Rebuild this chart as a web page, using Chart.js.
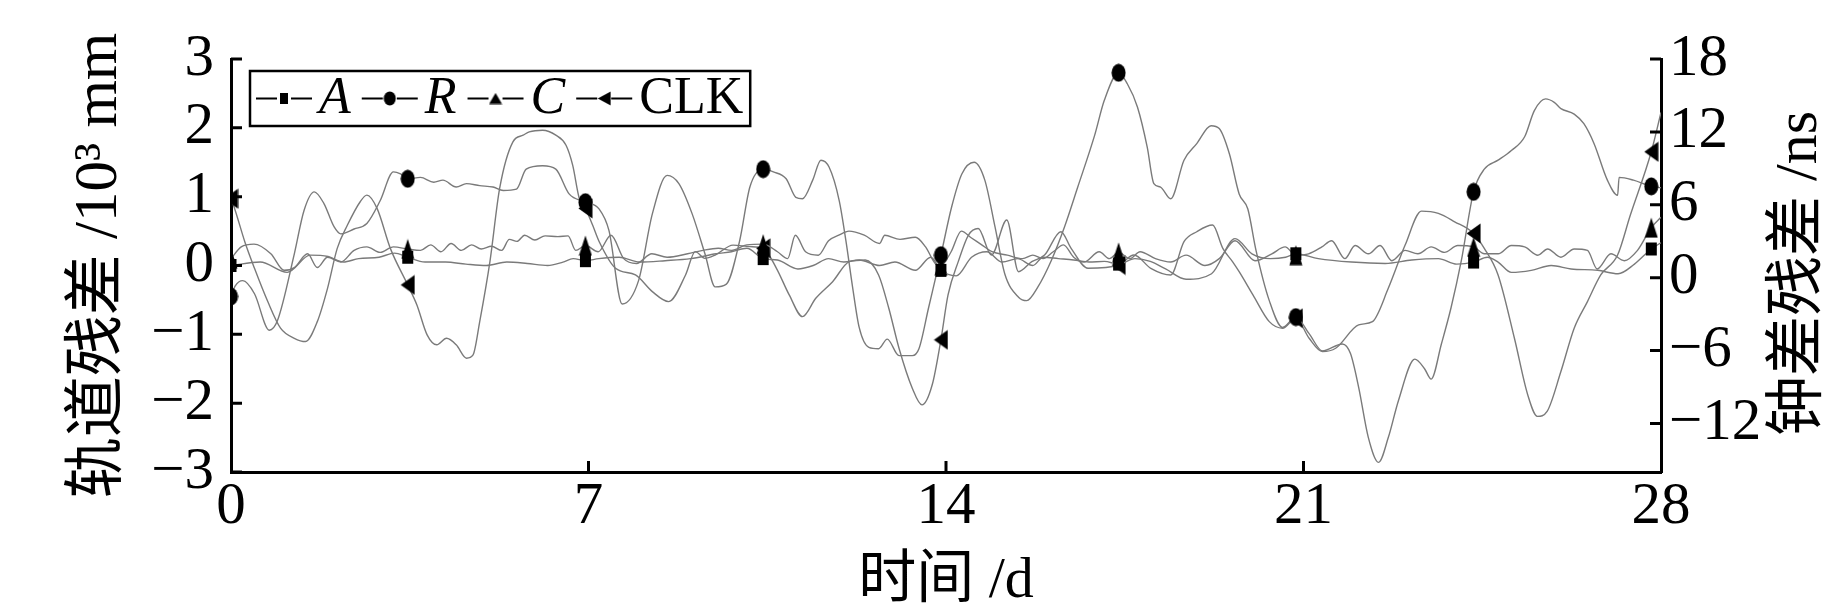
<!doctype html>
<html lang="zh">
<head>
<meta charset="UTF-8">
<title>轨道残差与钟差残差</title>
<script src="https://cdn.jsdelivr.net/npm/chart.js"></script>
<style>
  body { margin: 0; background: #fff; }
  #wrap { width: 1843px; height: 614px; }
</style>
</head>
<body>
<div id="wrap"><canvas id="chart" width="1843" height="614"></canvas></div>
<script>
// days on which the markers are drawn
const markerDays = [0, 3.46, 6.94, 10.42, 13.9, 17.38, 20.85, 24.33, 27.81];

// A, R, C: orbit residual (10^3 mm), [day, value]
const aPoints = [
  [0, 0.0], [0.57, 0.05], [1.1, -0.1], [1.55, 0.15], [1.9, 0.13], [2.2, 0.05], [2.5, 0.1],
  [2.9, 0.12], [3.2, 0.18], [3.46, 0.12], [3.8, 0.05], [4.2, 0.05], [4.6, 0.02], [5.0, 0.0],
  [5.4, 0.05], [5.8, 0.03], [6.2, 0.0], [6.5, 0.05], [6.7, 0.1], [6.94, 0.07], [7.2, 0.1],
  [7.6, 0.12], [8.0, 0.05], [8.5, 0.07], [9.0, 0.1], [9.5, 0.17], [9.8, 0.2], [10.1, 0.25],
  [10.42, 0.1], [10.7, 0.08], [11.1, -0.05], [11.4, 0.0], [11.7, 0.1], [12.0, 0.05], [12.3, 0.08],
  [12.7, 0.0], [13.0, 0.05], [13.4, -0.07], [13.7, 0.12], [13.9, -0.07], [14.2, -0.15], [14.5, 0.12],
  [14.8, 0.2], [15.1, 0.05], [15.4, 0.1], [15.7, 0.0], [15.9, 0.12], [16.2, 0.1], [16.5, 0.08],
  [16.8, 0.05], [17.1, 0.06], [17.38, 0.02], [17.7, 0.1], [18.0, 0.06], [18.3, -0.05], [18.7, -0.2],
  [19.2, -0.12], [19.66, 0.39], [19.99, 0.17], [20.35, 0.1], [20.65, 0.12], [20.85, 0.17],
  [21.29, 0.1], [21.94, 0.05], [22.6, 0.03], [23.12, 0.08], [23.64, 0.1], [24.0, 0.02], [24.33, 0.05],
  [24.6, 0.12], [24.81, 0.05], [25.07, -0.1], [25.46, -0.07], [25.85, 0.0], [26.24, -0.05],
  [26.76, -0.07], [27.16, -0.12], [27.48, 0.02], [27.81, 0.24], [28.0, 0.33]
];

const rPoints = [
  [0, -0.45], [0.08, -0.3], [0.23, -0.22], [0.46, -0.41], [0.75, -0.94], [0.91, -0.8], [1.24, 0.17],
  [1.43, 0.8], [1.63, 1.07], [1.82, 0.9], [2.02, 0.56], [2.15, 0.46], [2.41, 0.53], [2.66, 0.61],
  [2.92, 0.94], [3.18, 1.36], [3.32, 1.33], [3.46, 1.26], [3.71, 1.28], [3.97, 1.21], [4.15, 1.24],
  [4.41, 1.14], [4.61, 1.19], [4.87, 1.16], [5.13, 1.14], [5.33, 1.09], [5.59, 1.11], [5.78, 1.4],
  [6.1, 1.45], [6.36, 1.4], [6.62, 1.04], [6.94, 0.92], [7.21, 0.82], [7.4, 0.51], [7.66, -0.56],
  [7.98, -0.22], [8.25, 0.75], [8.54, 1.31], [8.77, 1.19], [9.03, 0.75], [9.28, 0.17], [9.48, -0.31],
  [9.7, -0.27], [9.96, 0.36], [10.16, 1.14], [10.42, 1.4], [10.62, 1.36], [10.87, 1.26], [11.06, 0.99],
  [11.19, 0.97], [11.39, 1.24], [11.55, 1.53], [11.71, 1.43], [11.91, 0.94], [12.04, 0.36],
  [12.17, -0.31], [12.3, -0.9], [12.49, -1.19], [12.68, -1.21], [12.85, -1.07], [13.08, -1.31],
  [13.34, -1.31], [13.47, -1.21], [13.66, -0.61], [13.9, 0.15], [14.11, 0.85], [14.31, 1.33],
  [14.55, 1.5], [14.76, 1.24], [14.96, 0.56], [15.15, -0.12], [15.42, -0.46], [15.58, -0.51],
  [15.8, -0.31], [16.06, 0.07], [16.32, 0.56], [16.58, 1.14], [16.91, 1.89], [17.1, 2.4], [17.38, 2.8],
  [17.55, 2.64], [17.75, 2.3], [17.94, 1.72], [18.07, 1.19], [18.2, 1.14], [18.4, 0.97], [18.66, 1.53],
  [18.91, 1.77], [19.19, 2.03], [19.35, 1.99], [19.55, 1.62], [19.74, 1.04], [19.91, 0.82], [20.07, 0.22],
  [20.33, -0.51], [20.59, -0.9], [20.85, -0.75], [21.11, -0.99], [21.37, -1.24], [21.76, -1.14],
  [21.92, -1.28], [22.08, -1.77], [22.27, -2.5], [22.47, -2.86], [22.66, -2.5], [22.86, -1.96],
  [23.18, -1.36], [23.37, -1.5], [23.5, -1.65], [23.7, -1.14], [23.89, -0.61], [24.09, 0.07],
  [24.33, 1.07], [24.54, 1.4], [24.81, 1.53], [25.07, 1.67], [25.33, 1.87], [25.52, 2.25], [25.74, 2.42],
  [25.91, 2.37], [26.04, 2.28], [26.3, 2.2], [26.49, 2.06], [26.69, 1.77], [26.95, 1.24], [27.15, 1.02],
  [27.18, 1.28], [27.46, 1.24], [27.81, 1.15], [28.0, 1.13]
];

const cPoints = [
  [0, 0.1], [0.2, 0.27], [0.45, 0.31], [0.78, 0.17], [1.04, -0.07], [1.24, -0.03], [1.5, 0.17],
  [1.69, -0.03], [1.89, 0.12], [2.15, 0.05], [2.41, 0.22], [2.66, 0.27], [2.92, 0.19], [3.18, 0.27],
  [3.46, 0.24], [3.71, 0.22], [3.91, 0.3], [4.11, 0.2], [4.31, 0.32], [4.51, 0.22], [4.71, 0.3],
  [4.9, 0.24], [5.1, 0.28], [5.3, 0.22], [5.45, 0.38], [5.6, 0.35], [5.75, 0.44], [5.95, 0.37],
  [6.15, 0.43], [6.4, 0.42], [6.6, 0.43], [6.75, 0.22], [6.94, 0.29], [7.19, 0.2], [7.44, 0.44],
  [7.69, 0.1], [7.94, 0.03], [8.24, 0.17], [8.54, 0.12], [8.94, 0.17], [9.24, 0.22], [9.54, 0.25],
  [9.8, 0.22], [10.1, 0.3], [10.42, 0.31], [10.7, 0.2], [10.9, 0.1], [11.05, 0.44], [11.25, 0.2],
  [11.5, 0.15], [11.7, 0.36], [11.9, 0.44], [12.1, 0.5], [12.4, 0.44], [12.7, 0.32], [12.8, 0.44],
  [13.1, 0.38], [13.4, 0.41], [13.6, 0.27], [13.8, 0.02], [13.9, 0.0], [14.1, 0.2], [14.3, 0.5],
  [14.5, 0.4], [14.7, 0.3], [14.9, 0.2], [15.2, 0.15], [15.5, 0.1], [15.7, 0.15], [15.9, 0.1],
  [16.1, 0.2], [16.3, 0.3], [16.5, 0.12], [16.7, 0.05], [17.0, 0.2], [17.2, 0.1], [17.38, 0.19],
  [17.6, 0.1], [17.8, 0.2], [18.1, 0.1], [18.4, 0.05], [18.7, 0.15], [19.07, 0.0], [19.35, 0.1],
  [19.66, 0.36], [20.05, 0.07], [20.38, 0.17], [20.64, 0.27], [20.85, 0.15], [21.1, 0.17],
  [21.36, 0.27], [21.55, 0.36], [21.81, 0.1], [22.01, 0.29], [22.27, 0.17], [22.5, 0.29], [22.73, 0.07],
  [22.99, 0.22], [23.24, 0.17], [23.5, 0.27], [23.76, 0.19], [24.02, 0.29], [24.33, 0.27], [24.54, 0.17],
  [24.81, 0.17], [25.07, 0.29], [25.33, 0.27], [25.59, 0.15], [25.78, 0.24], [26.04, 0.12], [26.3, 0.24],
  [26.56, 0.22], [26.75, -0.05], [27.02, 0.17], [27.28, 0.07], [27.54, 0.22], [27.81, 0.55], [28.0, 0.7]
];

// CLK: clock residual (ns), right axis
const clkPoints = [
  [0, 6.5], [0.07, 5.7], [0.27, 2.96], [0.46, 0.77], [0.72, -1.97], [0.97, -4.16], [1.24, -4.99],
  [1.46, -5.26], [1.69, -3.62], [1.89, -0.88], [2.08, 2.41], [2.28, 4.33], [2.53, 6.25], [2.66, 6.79],
  [2.86, 5.7], [3.12, 2.41], [3.46, -0.6], [3.64, -2.25], [3.84, -4.71], [4.03, -5.53], [4.22, -4.99],
  [4.41, -5.53], [4.61, -6.63], [4.74, -6.36], [4.87, -3.62], [5.07, 1.32], [5.26, 7.34], [5.52, 11.18],
  [5.72, 11.73], [5.84, 12.0], [6.1, 12.14], [6.36, 11.73], [6.56, 10.9], [6.69, 9.26], [6.82, 6.52],
  [6.94, 5.7], [7.08, 4.33], [7.21, 2.96], [7.53, 0.77], [7.92, 0.22], [8.25, -1.15], [8.57, -1.97],
  [8.9, 0.22], [9.09, 2.14], [9.28, 1.59], [9.48, 1.86], [9.83, 2.68], [10.16, 2.55], [10.42, 2.41],
  [10.68, 0.77], [10.93, -1.42], [11.19, -3.21], [11.45, -1.7], [11.78, -0.33], [12.11, 1.32],
  [12.42, 1.45], [12.68, 0.22], [12.88, -2.52], [13.08, -5.81], [13.34, -9.1], [13.53, -10.47],
  [13.73, -8.82], [13.9, -5.12], [14.04, -1.42], [14.24, 1.32], [14.44, 3.51], [14.63, 4.05],
  [14.89, 1.86], [15.19, 4.74], [15.42, 0.49], [15.68, 1.32], [15.93, 1.86], [16.25, 3.78], [16.45, 2.41],
  [16.78, 0.77], [17.38, 1.04], [17.68, 1.86], [18.01, 0.77], [18.4, 0.22], [18.66, 2.96], [18.91, 3.78],
  [19.22, 4.33], [19.42, 2.41], [19.61, 1.32], [19.74, 0.49], [20.01, -1.42], [20.33, -3.62],
  [20.59, -4.16], [20.85, -3.34], [21.11, -4.99], [21.37, -6.08], [21.63, -5.81], [22.08, -3.89],
  [22.35, -3.62], [22.66, -0.88], [22.99, 2.68], [23.31, 5.48], [23.64, 5.29], [23.96, 4.6], [24.33, 3.64],
  [24.54, 2.41], [24.81, 0.22], [25.13, -4.99], [25.39, -9.64], [25.58, -11.42], [25.77, -11.01],
  [26.04, -7.73], [26.3, -4.16], [26.56, -1.97], [26.82, 0.22], [27.15, 1.86], [27.4, 5.15],
  [27.81, 10.36], [28.0, 13.6]
];

const xTicks = [0, 7, 14, 21, 28];
const leftTicks = [-3, -2, -1, 0, 1, 2, 3];
const rightTicks = [-12, -6, 0, 6, 12, 18];

const SERIF = "'Liberation Serif', 'Noto Sans CJK SC', serif";
const lineGrey = '#7a7a7a';

function makeMarker(kind, w, h) {
  const c = document.createElement('canvas');
  c.width = w; c.height = h;
  const g = c.getContext('2d');
  g.fillStyle = '#000';
  g.beginPath();
  if (kind === 'square') g.rect(1, 1, w - 2, h - 2);
  else if (kind === 'circle') g.ellipse(w / 2, h / 2, w / 2 - 0.5, h / 2 - 0.5, 0, 0, Math.PI * 2);
  else if (kind === 'up') { g.moveTo(w / 2, 0.5); g.lineTo(w - 0.5, h - 0.5); g.lineTo(0.5, h - 0.5); }
  else if (kind === 'left') { g.moveTo(0.5, h / 2); g.lineTo(w - 0.5, 0.5); g.lineTo(w - 0.5, h - 0.5); }
  g.closePath();
  g.fill();
  return c;
}

const toXY = pts => pts.map(p => ({ x: p[0], y: p[1] }));
const markerRadius = c => (c.raw && markerDays.includes(c.raw.x)) ? 8 : 0;

function series(label, pts, kind, size, axis, italic) {
  return {
    label: label,
    data: toXY(pts),
    yAxisID: axis,
    borderColor: lineGrey,
    borderWidth: 1.4,
    cubicInterpolationMode: 'monotone',
    pointStyle: makeMarker(kind, size[0], size[1]),
    pointRadius: markerRadius,
    pointBorderWidth: 0,
    pointHoverRadius: 0,
    marker: kind,
    italic: italic
  };
}

const legendMarkers = {
  square: makeMarker('square', 10, 13),
  circle: makeMarker('circle', 13, 15),
  up: makeMarker('up', 14, 12),
  left: makeMarker('left', 14, 15)
};

const extras = {
  id: 'extras',
  afterDraw(chart) {
    const ctx = chart.ctx;
    const area = chart.chartArea;
    const sx = chart.scales.x, sy = chart.scales.y, sy1 = chart.scales.y1;
    ctx.save();

    // inward tick marks
    ctx.strokeStyle = '#000';
    ctx.lineWidth = 3;
    ctx.beginPath();
    sx.ticks.forEach(t => {
      if (t.value > sx.min && t.value < sx.max) {
        const px = sx.getPixelForValue(t.value);
        ctx.moveTo(px, area.bottom); ctx.lineTo(px, area.bottom - 11);
      }
    });
    sy.ticks.forEach(t => {
      const py = sy.getPixelForValue(t.value);
      ctx.moveTo(area.left, py); ctx.lineTo(area.left + 11, py);
    });
    sy1.ticks.forEach(t => {
      const py = sy1.getPixelForValue(t.value);
      ctx.moveTo(area.right, py); ctx.lineTo(area.right - 11, py);
    });
    ctx.stroke();

    // right axis title, read bottom to top like the left one
    ctx.save();
    ctx.translate(area.right + 139, (area.top + area.bottom) / 2 + 8);
    ctx.rotate(-Math.PI / 2);
    ctx.fillStyle = '#000';
    ctx.font = '60px ' + SERIF;
    ctx.textAlign = 'center';
    ctx.textBaseline = 'middle';
    ctx.fillText(sy1.options.title.text, 0, 0);
    ctx.restore();

    // legend
    const boxL = area.left + 19, boxT = area.top + 12, boxH = 55;
    const cy = boxT + boxH / 2;
    let x0 = boxL + 6;
    ctx.textBaseline = 'middle';
    ctx.textAlign = 'left';
    ctx.fillStyle = '#000';
    chart.data.datasets.forEach(ds => {
      ctx.lineWidth = 2;
      ctx.beginPath();
      ctx.moveTo(x0, cy); ctx.lineTo(x0 + 21, cy);
      ctx.moveTo(x0 + 35, cy); ctx.lineTo(x0 + 56, cy);
      ctx.stroke();
      const m = legendMarkers[ds.marker];
      ctx.drawImage(m, x0 + 28 - m.width / 2, cy - m.height / 2);
      ctx.font = (ds.italic ? 'italic ' : '') + '52px ' + SERIF;
      const tx = x0 + 63;
      ctx.fillText(ds.label, tx, cy + 1);
      x0 = tx + ctx.measureText(ds.label).width + 11;
    });
    ctx.lineWidth = 2.5;
    ctx.strokeRect(boxL, boxT, x0 - 11 + 7 - boxL, boxH);
    ctx.restore();
  }
};

const minus = v => v < 0 ? '\u2212' + Math.abs(v) : String(v);

new Chart(document.getElementById('chart'), {
  type: 'line',
  data: {
    datasets: [
      series('A', aPoints, 'square', [13, 15], 'y', true),
      series('R', rPoints, 'circle', [15, 19], 'y', true),
      series('C', cPoints, 'up', [14, 21], 'y', true),
      series('CLK', clkPoints, 'left', [15, 21], 'y1', false)
    ]
  },
  options: {
    responsive: false,
    animation: false,
    devicePixelRatio: 1,
    layout: { padding: { top: 59, left: 0, right: 0, bottom: 0 } },
    plugins: { legend: { display: false }, tooltip: { enabled: false } },
    scales: {
      x: {
        type: 'linear',
        min: 0, max: 28,
        afterBuildTicks: s => { s.ticks = xTicks.map(v => ({ value: v })); },
        afterFit: s => { s.height = 142; },
        grid: { display: false, drawTicks: false },
        border: { display: true, width: 3, color: '#000' },
        ticks: { color: '#000', font: { family: SERIF, size: 59 }, padding: 0, maxRotation: 0, autoSkip: false },
        title: {
          display: true, text: '时间 /d', color: '#000',
          font: { family: SERIF, size: 58, lineHeight: 1.1 }, padding: { top: 0, bottom: 0 }
        }
      },
      y: {
        position: 'left',
        min: -3, max: 3,
        afterBuildTicks: s => { s.ticks = leftTicks.map(v => ({ value: v })); },
        afterFit: s => { s.width = 231; },
        grid: { display: false, drawTicks: false },
        border: { display: true, width: 3, color: '#000' },
        ticks: { color: '#000', font: { family: SERIF, size: 59 }, padding: 17, autoSkip: false, callback: minus },
        title: {
          display: true, text: '轨道残差 /10³ mm', color: '#000',
          font: { family: SERIF, size: 61, lineHeight: 1.2 }, padding: { top: 63, bottom: 0 }
        }
      },
      y1: {
        position: 'right',
        min: -16, max: 18,
        afterBuildTicks: s => { s.ticks = rightTicks.map(v => ({ value: v })); },
        afterFit: s => { s.width = 182; },
        grid: { display: false, drawTicks: false },
        border: { display: true, width: 3, color: '#000' },
        ticks: { color: '#000', font: { family: SERIF, size: 59 }, padding: 8, autoSkip: false, callback: minus },
        title: { display: false, text: '钟差残差 /ns' }
      }
    }
  },
  plugins: [extras]
});
</script>
</body>
</html>
